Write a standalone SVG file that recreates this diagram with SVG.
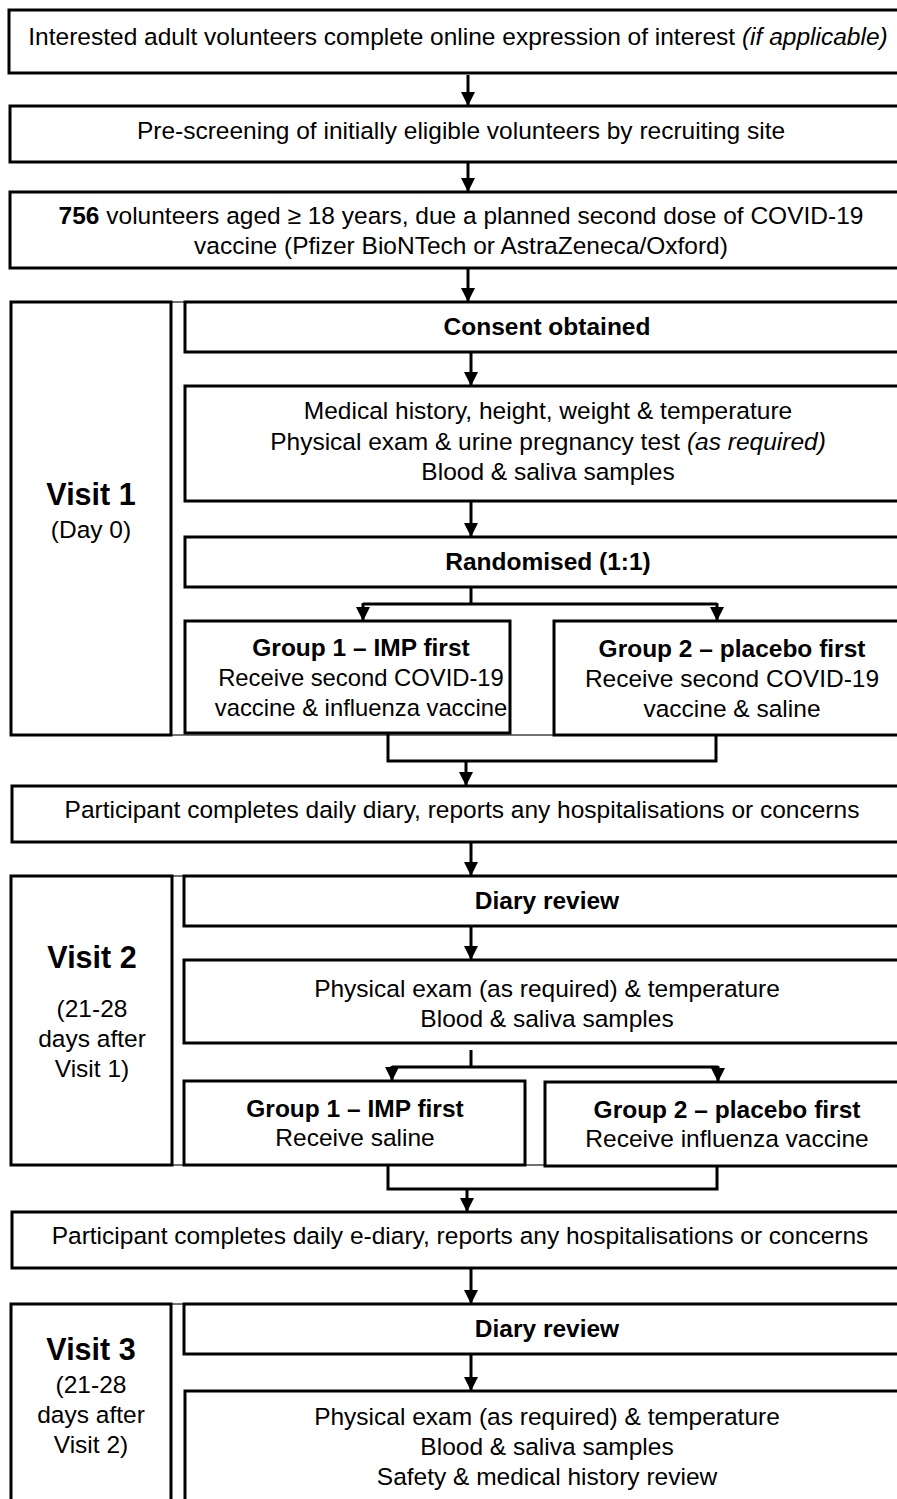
<svg xmlns="http://www.w3.org/2000/svg" width="897" height="1499" viewBox="0 0 897 1499">
<style>
.b{fill:#fff;stroke:#000;stroke-width:3}
.o{fill:none;stroke:#444;stroke-width:1.5}
.t{font-family:"Liberation Sans",Arial,sans-serif;font-size:24.5px;fill:#000;text-anchor:middle}
.s{font-size:23.8px}
.bd{font-weight:bold}
.v{font-size:30.5px;font-weight:bold}
.c{fill:none;stroke:#000;stroke-width:3}
</style>
<defs>
<marker id="a" markerUnits="userSpaceOnUse" markerWidth="14" markerHeight="14" viewBox="0 0 14 14" refX="13" refY="7" orient="auto">
<path d="M0,0 L14,7 L0,14 Z" fill="#000"/>
</marker>
</defs>

<g id="n1"><rect class="b" x="9" y="10" width="900" height="63"/>
<text class="t" x="458" y="45">Interested adult volunteers complete online expression of interest <tspan font-style="italic">(if applicable)</tspan></text></g>

<g id="n2"><rect class="b" x="10" y="106" width="900" height="56"/>
<text class="t" x="461" y="139">Pre-screening of initially eligible volunteers by recruiting site</text></g>

<g id="n3"><rect class="b" x="10" y="192" width="900" height="76"/>
<text class="t" x="461" y="224"><tspan class="bd">756</tspan> volunteers aged ≥ 18 years, due a planned second dose of COVID-19</text>
<text class="t" x="461" y="254">vaccine (Pfizer BioNTech or AstraZeneca/Oxford)</text></g>

<g id="visit1">
<rect class="o" x="11" y="302" width="900" height="433"/>
<rect class="b" x="11" y="302" width="160" height="433"/>
<text class="t v" x="91" y="505">Visit 1</text>
<text class="t" x="91" y="538">(Day 0)</text></g>

<g id="n4"><rect class="b" x="185" y="302" width="720" height="50"/>
<text class="t bd" x="547" y="335">Consent obtained</text></g>

<g id="n5"><rect class="b" x="185" y="386" width="720" height="115"/>
<text class="t" x="548" y="419">Medical history, height, weight &amp; temperature</text>
<text class="t" x="548" y="450">Physical exam &amp; urine pregnancy test <tspan font-style="italic">(as required)</tspan></text>
<text class="t" x="548" y="480">Blood &amp; saliva samples</text></g>

<g id="n6"><rect class="b" x="185" y="537" width="720" height="50"/>
<text class="t bd" x="548" y="570">Randomised (1:1)</text></g>

<g id="n7"><rect class="b" x="185" y="621" width="325" height="112"/>
<text class="t bd" x="361" y="656">Group 1 – IMP first</text>
<text class="t s" x="361" y="686">Receive second COVID-19</text>
<text class="t s" x="361" y="716">vaccine &amp; influenza vaccine</text></g>

<g id="n8"><rect class="b" x="554" y="621" width="350" height="114"/>
<text class="t bd" x="732" y="657">Group 2 – placebo first</text>
<text class="t" x="732" y="687">Receive second COVID-19</text>
<text class="t" x="732" y="717">vaccine &amp; saline</text></g>

<g id="n9"><rect class="b" x="12" y="786" width="900" height="56"/>
<text class="t" x="462" y="818">Participant completes daily diary, reports any hospitalisations or concerns</text></g>

<g id="visit2">
<rect class="o" x="11" y="876" width="900" height="289"/>
<rect class="b" x="11" y="876" width="161" height="289"/>
<text class="t v" x="92" y="968">Visit 2</text>
<text class="t" x="92" y="1017">(21-28</text>
<text class="t" x="92" y="1047">days after</text>
<text class="t" x="92" y="1077">Visit 1)</text></g>

<g id="n10"><rect class="b" x="184" y="876" width="720" height="50"/>
<text class="t bd" x="547" y="909">Diary review</text></g>

<g id="n11"><rect class="b" x="184" y="960" width="720" height="83"/>
<text class="t" x="547" y="997">Physical exam (as required) &amp; temperature</text>
<text class="t" x="547" y="1027">Blood &amp; saliva samples</text></g>

<g id="n12"><rect class="b" x="184" y="1081" width="341" height="84"/>
<text class="t bd" x="355" y="1117">Group 1 – IMP first</text>
<text class="t" x="355" y="1146">Receive saline</text></g>

<g id="n13"><rect class="b" x="545" y="1082" width="360" height="84"/>
<text class="t bd" x="727" y="1118">Group 2 – placebo first</text>
<text class="t" x="727" y="1147">Receive influenza vaccine</text></g>

<g id="n14"><rect class="b" x="12" y="1212" width="900" height="56"/>
<text class="t" x="460" y="1244">Participant completes daily e-diary, reports any hospitalisations or concerns</text></g>

<g id="visit3">
<rect class="o" x="11" y="1304" width="900" height="220"/>
<rect class="b" x="11" y="1304" width="160" height="220"/>
<text class="t v" x="91" y="1360">Visit 3</text>
<text class="t" x="91" y="1393">(21-28</text>
<text class="t" x="91" y="1423">days after</text>
<text class="t" x="91" y="1453">Visit 2)</text></g>

<g id="n15"><rect class="b" x="184" y="1304" width="720" height="50"/>
<text class="t bd" x="547" y="1337">Diary review</text></g>

<g id="n16"><rect class="b" x="185" y="1391" width="720" height="130"/>
<text class="t" x="547" y="1425">Physical exam (as required) &amp; temperature</text>
<text class="t" x="547" y="1455">Blood &amp; saliva samples</text>
<text class="t" x="547" y="1485">Safety &amp; medical history review</text></g>

<g id="connectors">
<path class="c" d="M468,75 V105" marker-end="url(#a)"/>
<path class="c" d="M468,163 V191" marker-end="url(#a)"/>
<path class="c" d="M468,269 V301" marker-end="url(#a)"/>
<path class="c" d="M471,353 V385" marker-end="url(#a)"/>
<path class="c" d="M471,502 V536" marker-end="url(#a)"/>
<path class="c" d="M471,588 V604"/>
<path class="c" d="M363,604 H717"/>
<path class="c" d="M363,603 V620" marker-end="url(#a)"/>
<path class="c" d="M717,603 V620" marker-end="url(#a)"/>
<path class="c" d="M388,734 V761 H716 V736"/>
<path class="c" d="M466,761 V785" marker-end="url(#a)"/>
<path class="c" d="M471,843 V875" marker-end="url(#a)"/>
<path class="c" d="M471,927 V959" marker-end="url(#a)"/>
<path class="c" d="M471,1050 V1067"/>
<path class="c" d="M392,1067 H718"/>
<path class="c" d="M392,1066 V1080" marker-end="url(#a)"/>
<path class="c" d="M718,1066 V1081" marker-end="url(#a)"/>
<path class="c" d="M388,1166 V1189 H717 V1167"/>
<path class="c" d="M467,1189 V1211" marker-end="url(#a)"/>
<path class="c" d="M471,1269 V1303" marker-end="url(#a)"/>
<path class="c" d="M471,1355 V1390" marker-end="url(#a)"/>
</g>
</svg>
